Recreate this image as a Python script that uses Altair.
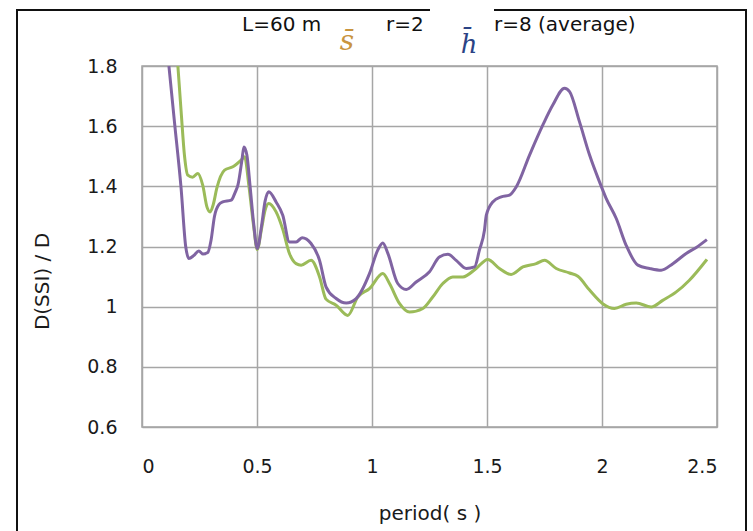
import altair as alt
import pandas as pd

# purple curve (upper at long periods)
purple_x = [0.117, 0.141, 0.17, 0.19, 0.204, 0.225, 0.247, 0.265, 0.286, 0.30, 0.315, 0.335,
            0.351, 0.388, 0.405, 0.417, 0.435, 0.443, 0.456, 0.47, 0.485, 0.501, 0.52, 0.535,
            0.551, 0.583, 0.612, 0.641, 0.67, 0.696, 0.735, 0.772, 0.80, 0.844, 0.888, 0.931,
            0.989, 1.025, 1.047, 1.069, 1.112, 1.149, 1.192, 1.25, 1.293, 1.33, 1.366, 1.41,
            1.446, 1.467, 1.489, 1.497, 1.525, 1.562, 1.598, 1.627, 1.685, 1.743, 1.786, 1.837,
            1.859, 1.902, 1.946, 1.989, 2.018, 2.062, 2.105, 2.156, 2.207, 2.257, 2.308, 2.366,
            2.41, 2.456]
purple_y = [1.80, 1.615, 1.393, 1.20, 1.16, 1.17, 1.185, 1.175, 1.18, 1.22, 1.30, 1.34,
            1.348, 1.354, 1.38, 1.404, 1.49, 1.531, 1.504, 1.40, 1.28, 1.193, 1.27, 1.35,
            1.382, 1.348, 1.304, 1.215, 1.215, 1.229, 1.21, 1.154, 1.066, 1.027, 1.012, 1.027,
            1.11, 1.188, 1.212, 1.177, 1.077, 1.057, 1.082, 1.116, 1.165, 1.174, 1.154, 1.127,
            1.132, 1.188, 1.254, 1.304, 1.348, 1.365, 1.371, 1.398, 1.504, 1.604, 1.67, 1.726,
            1.715, 1.615, 1.504, 1.415, 1.36, 1.293, 1.204, 1.138, 1.127, 1.121, 1.143, 1.177,
            1.197, 1.223]

# green curve
green_x = [0.156, 0.17, 0.185, 0.199, 0.22, 0.243, 0.264, 0.283, 0.296, 0.31, 0.325, 0.359,
           0.395, 0.431, 0.446, 0.465, 0.485, 0.501, 0.52, 0.535, 0.551, 0.583, 0.612, 0.641,
           0.67, 0.692, 0.735, 0.772, 0.80, 0.844, 0.895, 0.938, 0.989, 1.047, 1.076, 1.12,
           1.163, 1.221, 1.264, 1.308, 1.351, 1.395, 1.453, 1.503, 1.554, 1.605, 1.656, 1.714,
           1.75, 1.801, 1.859, 1.895, 1.946, 2.003, 2.054, 2.105, 2.149, 2.214, 2.264, 2.323,
           2.38, 2.456]
green_y = [1.80, 1.65, 1.50, 1.437, 1.43, 1.443, 1.404, 1.33, 1.315, 1.34, 1.393, 1.454,
           1.465, 1.487, 1.498, 1.40, 1.27, 1.19, 1.26, 1.32, 1.343, 1.315, 1.257, 1.177,
           1.143, 1.138, 1.154, 1.099, 1.025, 1.005, 0.971, 1.032, 1.06, 1.11, 1.077, 1.01,
           0.982, 0.994, 1.032, 1.077, 1.099, 1.099, 1.127, 1.157, 1.127, 1.107, 1.132, 1.143,
           1.154, 1.127, 1.112, 1.101, 1.055, 1.01, 0.994, 1.008, 1.012, 0.999, 1.021, 1.049,
           1.088, 1.157]

x_ticks = [0, 0.5, 1, 1.5, 2, 2.5]
y_ticks = [0.6, 0.8, 1.0, 1.2, 1.4, 1.6, 1.8]

PLOT_W, PLOT_H = 575, 361
FONT = "DejaVu Sans"

purple_df = pd.DataFrame({"period": purple_x, "ratio": purple_y})
green_df = pd.DataFrame({"period": green_x, "ratio": green_y})

x_enc = alt.X("period:Q", scale=alt.Scale(domain=[0, 2.5], nice=False),
              axis=alt.Axis(values=x_ticks, format="~g", title="period( s )",
                            labelPadding=30, titleY=86, titleBaseline="middle"))
y_enc = alt.Y("ratio:Q", scale=alt.Scale(domain=[0.6, 1.8], nice=False),
              axis=alt.Axis(values=y_ticks, format="~g", title="D(SSI) / D",
                            labelPadding=25, titleX=-90, titleY=215, titleAngle=-90))

green = alt.Chart(green_df).mark_line(
    interpolate="monotone", color="#9BBB59", strokeWidth=3, clip=True
).encode(x=x_enc, y=y_enc)

purple = alt.Chart(purple_df).mark_line(
    interpolate="monotone", color="#8064A2", strokeWidth=3, clip=True
).encode(x=x_enc, y=y_enc)

one = pd.DataFrame({"k": [0]})

frame = alt.Chart(one).mark_rect(
    fill="white", fillOpacity=0, stroke="#111111", strokeWidth=2, clip=False
).encode(x=alt.value(-125), x2=alt.value(604), y=alt.value(-56), y2=alt.value(480))

gap = alt.Chart(one).mark_rule(color="white", strokeWidth=5).encode(
    x=alt.value(288), x2=alt.value(352), y=alt.value(-56), y2=alt.value(-56))

t1 = alt.Chart(one).mark_text(text="L=60 m", align="left", baseline="alphabetic",
                              font=FONT, fontSize=20, color="#111111").encode(
    x=alt.value(100), y=alt.value(-35))
t2 = alt.Chart(one).mark_text(text="s\u0304", align="center", baseline="alphabetic",
                              font="DejaVu Serif", fontStyle="italic", fontSize=28,
                              color="#C9953F").encode(x=alt.value(205), y=alt.value(-16))
t3 = alt.Chart(one).mark_text(text="r=2", align="left", baseline="alphabetic",
                              font=FONT, fontSize=20, color="#111111").encode(
    x=alt.value(244), y=alt.value(-35))
t4 = alt.Chart(one).mark_text(text="h\u0304", align="center", baseline="alphabetic",
                              font="DejaVu Serif", fontStyle="italic", fontSize=26,
                              color="#2B4385").encode(x=alt.value(327), y=alt.value(-13))
t5 = alt.Chart(one).mark_text(text="r=8  (average)", align="left", baseline="alphabetic",
                              font=FONT, fontSize=20, color="#111111").encode(
    x=alt.value(352), y=alt.value(-35))

chart = alt.layer(frame, green, purple, gap, t1, t2, t3, t4, t5).properties(
    width=PLOT_W, height=PLOT_H,
    autosize=alt.AutoSizeParams(type="none"),
    padding={"left": 142, "top": 66, "right": 36, "bottom": 104},
    background="white",
).configure_view(
    stroke="#a3a3a3", strokeWidth=1.5
).configure_axis(
    grid=True, gridColor="#a6a6a6", gridWidth=1.5, domain=False, ticks=False,
    labelFont=FONT, labelFontSize=19, labelColor="#1a1a1a", labelFontWeight="normal",
    titleFont=FONT, titleFontSize=20, titleColor="#1a1a1a", titleFontWeight="normal",
)

chart.save("out.html", embed_options={"renderer": "svg", "actions": False})
